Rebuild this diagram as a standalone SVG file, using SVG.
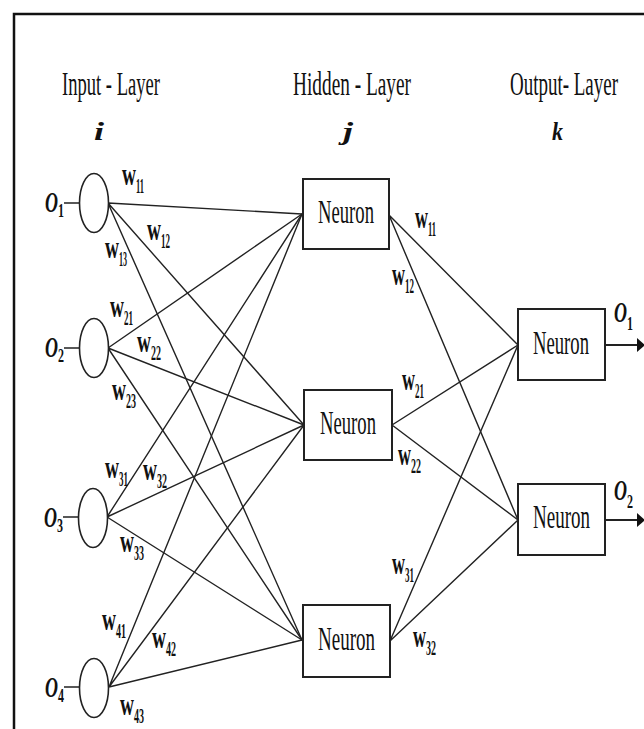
<svg xmlns="http://www.w3.org/2000/svg" width="644" height="729" viewBox="0 0 644 729">
<defs>
<style>
.bg{fill:#fff}
.frame{fill:none;stroke:#111;stroke-width:2.5}
.title{font-family:"Liberation Serif",serif;font-size:33px;fill:#111}
.idx{font-family:"Liberation Serif",serif;font-size:26px;font-weight:bold;font-style:italic;fill:#111}
.node{fill:#fff;stroke:#222;stroke-width:2}
.nt{font-family:"Liberation Serif",serif;font-size:33px;fill:#111}
.cell{fill:#fff;stroke:#222;stroke-width:1.6}
.ol{font-family:"Liberation Serif",serif;font-size:30px;font-weight:bold;font-style:italic;fill:#111}
.os{font-size:19px;font-style:normal}
.w{font-family:"Liberation Serif",serif;font-size:32px;font-weight:bold;fill:#111}
.ws{font-size:20px}
.edge{fill:none;stroke:#222;stroke-width:1.4}
.arr{fill:none;stroke:#222;stroke-width:2}
</style>
<marker id="ah" markerWidth="8" markerHeight="14" refX="0" refY="7" orient="auto" markerUnits="userSpaceOnUse">
<path d="M0,0 L8,7 L0,14 Z" fill="#111"/>
</marker>
</defs>
<rect class="bg" x="0" y="0" width="644" height="729"/>
<rect class="frame" x="14" y="14" width="650" height="730"/>

<g id="titles">
<text class="title" x="62" y="95" textLength="98" lengthAdjust="spacingAndGlyphs">Input - Layer</text>
<text class="title" x="293" y="95" textLength="118" lengthAdjust="spacingAndGlyphs">Hidden - Layer</text>
<text class="title" x="510" y="95" textLength="108" lengthAdjust="spacingAndGlyphs">Output- Layer</text>
<text class="idx" x="94" y="140" textLength="10" lengthAdjust="spacingAndGlyphs">i</text>
<text class="idx" x="343" y="140" textLength="10" lengthAdjust="spacingAndGlyphs">j</text>
<text class="idx" x="552" y="140" textLength="11" lengthAdjust="spacingAndGlyphs">k</text>
</g>

<g id="connectors">
<path class="edge" d="M108,203 L302,214 M108,203 L304,425 M108,203 L302,640"/>
<path class="edge" d="M108,348 L302,214 M108,348 L304,425 M108,348 L302,640"/>
<path class="edge" d="M107,517 L302,214 M107,517 L304,425 M107,517 L302,640"/>
<path class="edge" d="M109,687 L302,214 M109,687 L304,425 M109,687 L302,640"/>
<path class="edge" d="M389,215 L518,345 M389,215 L518,520"/>
<path class="edge" d="M392,425 L518,345 M392,425 L518,520"/>
<path class="edge" d="M390,641 L518,345 M390,641 L518,520"/>
<path class="edge" d="M64,203 L79,203 M64,348 L79,348 M63,517 L78,517 M64,687 L79,687"/>
<path class="arr" d="M605,345 L637,345" marker-end="url(#ah)"/>
<path class="arr" d="M605,520 L637,520" marker-end="url(#ah)"/>
</g>

<g id="in1">
<ellipse class="cell" cx="94" cy="203" rx="14.5" ry="29.5"/>
<text class="ol" x="45" y="212"><tspan textLength="13" lengthAdjust="spacingAndGlyphs">O</tspan><tspan class="os" x="58" y="217" textLength="6" lengthAdjust="spacingAndGlyphs">1</tspan></text>
</g>
<g id="in2">
<ellipse class="cell" cx="94" cy="348" rx="14.5" ry="29.5"/>
<text class="ol" x="45" y="357"><tspan textLength="13" lengthAdjust="spacingAndGlyphs">O</tspan><tspan class="os" x="58" y="362" textLength="6" lengthAdjust="spacingAndGlyphs">2</tspan></text>
</g>
<g id="in3">
<ellipse class="cell" cx="93" cy="518" rx="14.5" ry="29.5"/>
<text class="ol" x="44" y="527"><tspan textLength="13" lengthAdjust="spacingAndGlyphs">O</tspan><tspan class="os" x="57" y="532" textLength="6" lengthAdjust="spacingAndGlyphs">3</tspan></text>
</g>
<g id="in4">
<ellipse class="cell" cx="94" cy="688" rx="14.5" ry="29.5"/>
<text class="ol" x="45" y="697"><tspan textLength="13" lengthAdjust="spacingAndGlyphs">O</tspan><tspan class="os" x="58" y="702" textLength="6" lengthAdjust="spacingAndGlyphs">4</tspan></text>
</g>

<g id="hid1">
<rect class="node" x="303" y="179" width="86" height="70"/>
<text class="nt" x="318" y="223" textLength="56" lengthAdjust="spacingAndGlyphs">Neuron</text>
</g>
<g id="hid2">
<rect class="node" x="304" y="390" width="88" height="70"/>
<text class="nt" x="320" y="434" textLength="56" lengthAdjust="spacingAndGlyphs">Neuron</text>
</g>
<g id="hid3">
<rect class="node" x="303" y="605" width="87" height="72"/>
<text class="nt" x="318" y="650" textLength="57" lengthAdjust="spacingAndGlyphs">Neuron</text>
</g>
<g id="out1">
<rect class="node" x="518" y="309" width="87" height="71"/>
<text class="nt" x="533" y="354" textLength="56" lengthAdjust="spacingAndGlyphs">Neuron</text>
<text class="ol" x="614" y="322"><tspan textLength="13" lengthAdjust="spacingAndGlyphs">O</tspan><tspan class="os" x="627" y="330" textLength="6" lengthAdjust="spacingAndGlyphs">1</tspan></text>
</g>
<g id="out2">
<rect class="node" x="518" y="484" width="87" height="71"/>
<text class="nt" x="533" y="528" textLength="57" lengthAdjust="spacingAndGlyphs">Neuron</text>
<text class="ol" x="614" y="500"><tspan textLength="13" lengthAdjust="spacingAndGlyphs">O</tspan><tspan class="os" x="627" y="508" textLength="6" lengthAdjust="spacingAndGlyphs">2</tspan></text>
</g>

<g id="weights">
<text class="w" x="122" y="185"><tspan textLength="14" lengthAdjust="spacingAndGlyphs">w</tspan><tspan class="ws" x="136" y="193" textLength="8" lengthAdjust="spacingAndGlyphs">11</tspan></text>
<text class="w" x="147" y="240"><tspan textLength="14" lengthAdjust="spacingAndGlyphs">w</tspan><tspan class="ws" x="161" y="248" textLength="9" lengthAdjust="spacingAndGlyphs">12</tspan></text>
<text class="w" x="105" y="258"><tspan textLength="14" lengthAdjust="spacingAndGlyphs">w</tspan><tspan class="ws" x="119" y="266" textLength="8" lengthAdjust="spacingAndGlyphs">13</tspan></text>
<text class="w" x="110" y="317"><tspan textLength="14" lengthAdjust="spacingAndGlyphs">w</tspan><tspan class="ws" x="124" y="325" textLength="9" lengthAdjust="spacingAndGlyphs">21</tspan></text>
<text class="w" x="137" y="352"><tspan textLength="14" lengthAdjust="spacingAndGlyphs">w</tspan><tspan class="ws" x="151" y="360" textLength="10" lengthAdjust="spacingAndGlyphs">22</tspan></text>
<text class="w" x="112" y="400"><tspan textLength="14" lengthAdjust="spacingAndGlyphs">w</tspan><tspan class="ws" x="126" y="408" textLength="10" lengthAdjust="spacingAndGlyphs">23</tspan></text>
<text class="w" x="105" y="478"><tspan textLength="14" lengthAdjust="spacingAndGlyphs">w</tspan><tspan class="ws" x="119" y="486" textLength="9" lengthAdjust="spacingAndGlyphs">31</tspan></text>
<text class="w" x="143" y="480"><tspan textLength="14" lengthAdjust="spacingAndGlyphs">w</tspan><tspan class="ws" x="157" y="488" textLength="10" lengthAdjust="spacingAndGlyphs">32</tspan></text>
<text class="w" x="120" y="552"><tspan textLength="14" lengthAdjust="spacingAndGlyphs">w</tspan><tspan class="ws" x="134" y="560" textLength="10" lengthAdjust="spacingAndGlyphs">33</tspan></text>
<text class="w" x="102" y="630"><tspan textLength="14" lengthAdjust="spacingAndGlyphs">w</tspan><tspan class="ws" x="116" y="638" textLength="10" lengthAdjust="spacingAndGlyphs">41</tspan></text>
<text class="w" x="152" y="648"><tspan textLength="14" lengthAdjust="spacingAndGlyphs">w</tspan><tspan class="ws" x="166" y="656" textLength="10" lengthAdjust="spacingAndGlyphs">42</tspan></text>
<text class="w" x="120" y="715"><tspan textLength="14" lengthAdjust="spacingAndGlyphs">w</tspan><tspan class="ws" x="134" y="723" textLength="10" lengthAdjust="spacingAndGlyphs">43</tspan></text>
<text class="w" x="415" y="228"><tspan textLength="13" lengthAdjust="spacingAndGlyphs">w</tspan><tspan class="ws" x="428" y="236" textLength="8" lengthAdjust="spacingAndGlyphs">11</tspan></text>
<text class="w" x="392" y="285"><tspan textLength="13" lengthAdjust="spacingAndGlyphs">w</tspan><tspan class="ws" x="405" y="293" textLength="9" lengthAdjust="spacingAndGlyphs">12</tspan></text>
<text class="w" x="402" y="390"><tspan textLength="13" lengthAdjust="spacingAndGlyphs">w</tspan><tspan class="ws" x="415" y="398" textLength="9" lengthAdjust="spacingAndGlyphs">21</tspan></text>
<text class="w" x="398" y="465"><tspan textLength="13" lengthAdjust="spacingAndGlyphs">w</tspan><tspan class="ws" x="411" y="473" textLength="10" lengthAdjust="spacingAndGlyphs">22</tspan></text>
<text class="w" x="392" y="574"><tspan textLength="13" lengthAdjust="spacingAndGlyphs">w</tspan><tspan class="ws" x="405" y="582" textLength="9" lengthAdjust="spacingAndGlyphs">31</tspan></text>
<text class="w" x="413" y="647"><tspan textLength="13" lengthAdjust="spacingAndGlyphs">w</tspan><tspan class="ws" x="426" y="655" textLength="10" lengthAdjust="spacingAndGlyphs">32</tspan></text>
</g>
</svg>
